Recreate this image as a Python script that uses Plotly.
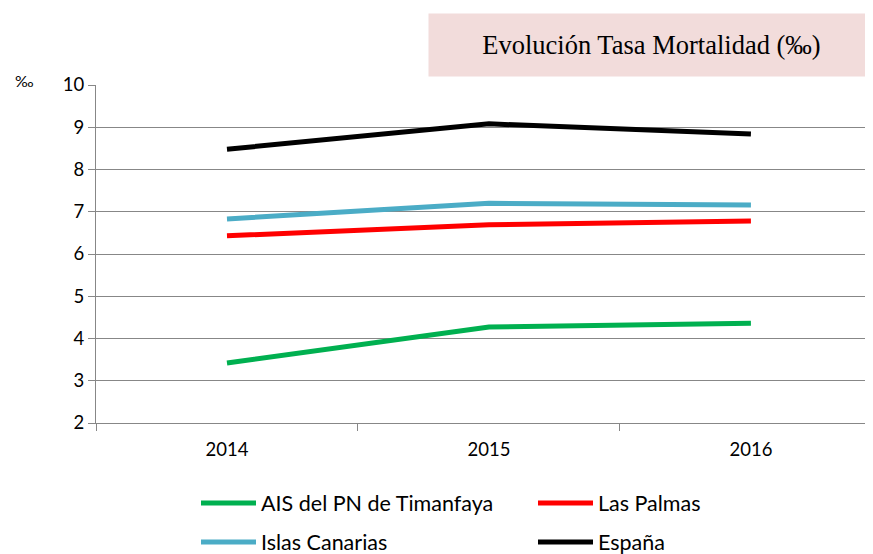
import plotly.graph_objects as go

years = ["2014", "2015", "2016"]
ais = [3.42, 4.27, 4.36]
las_palmas = [6.43, 6.69, 6.78]
islas_canarias = [6.83, 7.20, 7.16]
espana = [8.48, 9.08, 8.84]
y_ticks = [2, 3, 4, 5, 6, 7, 8, 9, 10]

# page body has an 8px default margin, so the figure is 8px smaller
OFF = 8
W, H = 873 - OFF, 554 - OFF
L, R, T, B = 96 - OFF, 0, 85 - OFF, 554 - 423

FONT = "Lato"

fig = go.Figure()
series = [
    ("AIS del PN de Timanfaya", ais, "#00B050", "legend"),
    ("Las Palmas", las_palmas, "#FF0000", "legend"),
    ("Islas Canarias", islas_canarias, "#4BACC6", "legend2"),
    ("España", espana, "#000000", "legend2"),
]
for name, vals, col, lg in series:
    fig.add_trace(go.Scatter(x=years, y=vals, mode="lines", name=name,
                             line=dict(color=col, width=5), legend=lg))

leg_common = dict(orientation="h", xref="container", yref="container",
                  x=(196 - OFF) / W, xanchor="left", yanchor="middle",
                  itemwidth=55,
                  entrywidth=267, entrywidthmode="pixels", font=dict(size=21.5),
                  bgcolor="rgba(0,0,0,0)")

fig.update_layout(
    width=W, height=H,
    margin=dict(l=L, r=R, t=T, b=B),
    paper_bgcolor="white", plot_bgcolor="white",
    font=dict(family=FONT, size=18, color="#000000"),
    xaxis=dict(type="category", range=[-0.5, 2.466], showgrid=False,
               showline=True, linecolor="#878787", linewidth=1,
               ticks="outside", ticklen=7, tickcolor="#878787",
               tickson="boundaries", tickfont=dict(size=18.5), ticklabelstandoff=10),
    yaxis=dict(range=[2, 10], tickvals=y_ticks, showgrid=True, gridcolor="#878787",
               gridwidth=1, showline=True, linecolor="#878787", linewidth=1,
               ticks="outside", ticklen=7, tickcolor="#878787",
               tickfont=dict(size=18.5), zeroline=False),
    legend=dict(leg_common, y=1 - (503 - OFF) / H),
    legend2=dict(leg_common, y=1 - (542 - OFF) / H),
)

pw = W - L - R
ph = H - T - B
fig.add_annotation(text="Evolución Tasa Mortalidad (‰)", xref="paper", yref="paper",
                   x=(651.5 - 96) / pw, y=(423 - 45) / ph, xanchor="center", yanchor="middle",
                   showarrow=False, bgcolor="#F2DCDB", width=443, height=60,
                   font=dict(family="Liberation Serif", size=26.5, color="#000000"))
fig.add_annotation(text="‰", xref="paper", yref="paper",
                   x=(24 - 96) / pw, y=(423 - 80) / ph, xanchor="center", yanchor="middle",
                   showarrow=False, font=dict(size=16, color="#000000"))

fig.write_html("out.html")
